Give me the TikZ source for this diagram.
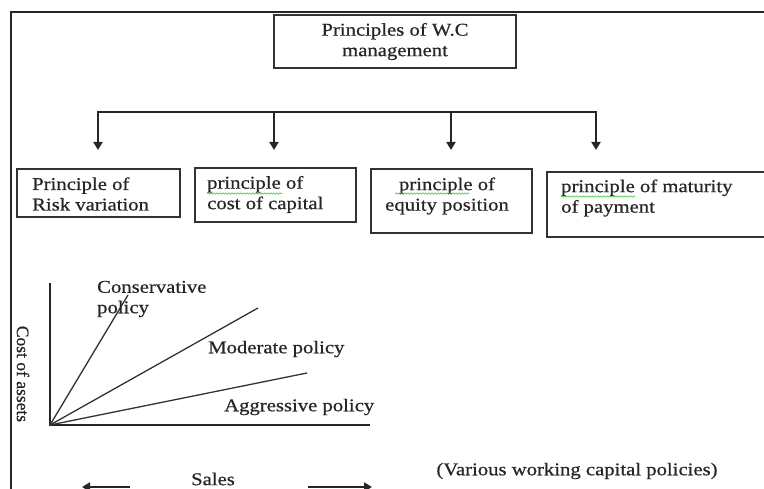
\documentclass[tikz,border=0pt]{standalone}
\usepackage{fontspec}
\setmainfont{Liberation Serif}[FakeStretch=1.15,FakeBold=0.6]
\newfontfamily\plainserif{Liberation Serif}[FakeBold=0.6]
\usetikzlibrary{arrows.meta,decorations.pathmorphing}
\begin{document}
\begin{tikzpicture}[x=1pt,y=-1pt,
  frame/.style={draw=black!85,line width=1.8pt},
  boxnode/.style={draw=black!80,line width=1.6pt,inner sep=0pt},
  txt/.style={inner sep=0pt,text=black!85,font=\fontsize{18}{20.5}\selectfont,align=left},
  conn/.style={draw=black!85,line width=1.8pt},
  tip/.tip={Triangle[width=9pt,length=8pt]},
  arr/.style={conn,-tip},
  axisline/.style={draw=black!85,line width=1.8pt},
  pol/.style={draw=black!80,line width=1.3pt},
  spell/.style={draw=green!55!gray,line width=0.6pt,decorate,decoration={snake,amplitude=0.7pt,segment length=3pt}}
]
\useasboundingbox (0,0) rectangle (764,489);
\clip (0,0) rectangle (764,489);
\fill[white] (0,0) rectangle (764,489);

% outer frame (cropped screenshot)
\draw[frame] (800,12) -- (11,12) -- (11,500);

% top box
\node[boxnode, txt, align=center, minimum width=242pt, minimum height=53pt] (top) at (395,41.5) {Principles of W.C\\management};

% distribution bar and arrows
\coordinate (j1) at (98,112);
\coordinate (j2) at (274,112);
\coordinate (j3) at (451,112);
\coordinate (j4) at (596,112);
\coordinate (a1) at (98,150);
\coordinate (a2) at (274,150);
\coordinate (a3) at (451,150);
\coordinate (a4) at (596,150);
\draw[conn, tip-tip] (a1) -- (j1) -- (j4) -- (a4);
\draw[arr] (j2) -- (a2);
\draw[arr] (j3) -- (a3);

% principle boxes
\node[boxnode, minimum width=163pt, minimum height=48pt] (b1) at (98.5,193) {};
\node[boxnode, minimum width=161pt, minimum height=54pt] (b2) at (275.5,195) {};
\node[boxnode, minimum width=161pt, minimum height=64pt] (b3) at (451.5,201) {};
\node[boxnode, minimum width=260pt, minimum height=65pt] (b4) at (677,204.5) {};

\node[txt, anchor=west] (t1) at (32,194) {Principle of\\Risk variation};
\node[txt, anchor=west] (t2) at (207,194.5) {principle of\\cost of capital};
\node[txt, align=center] (t3) at (447,196) {principle of\\equity position};
\node[txt, anchor=west] (t4) at (561,198) {principle of maturity\\of payment};

% spell-check squiggles
\draw[spell] (207,193.5) -- (282,193.5);
\draw[spell] (395,193.5) -- (469,193.5);
\draw[spell] (561,196.5) -- (635,196.5);

% graph
\coordinate (o) at (50,425);
\coordinate (ytop) at (50,283);
\coordinate (xend) at (370,425);
\coordinate (cons) at (128,295);
\coordinate (mod) at (258,308);
\coordinate (agg) at (307,373);
\draw[axisline] (ytop) -- (o) -- (xend);
\draw[pol] (o) -- (cons);
\draw[pol] (o) -- (mod);
\draw[pol] (o) -- (agg);

\node[txt, anchor=west] (lc) at (97,299) {Conservative\\policy};
\node[txt, anchor=west] (lm) at (208,349) {Moderate policy};
\node[txt, anchor=west] (la) at (224,407) {Aggressive policy};
\node[inner sep=0pt, text=black!85, font=\plainserif\fontsize{17.5}{20}\selectfont, rotate=-90] (ly) at (23,374) {Cost of assets};

\node[txt] (ls) at (213,479) {Sales};
\coordinate (l1) at (130,487);
\coordinate (l2) at (82,487);
\coordinate (r1) at (308,487);
\coordinate (r2) at (372,487);
\draw[arr] (l1) -- (l2);
\draw[arr] (r1) -- (r2);

\node[txt] (cap) at (577,471) {(Various working capital policies)};
\end{tikzpicture}
\end{document}
